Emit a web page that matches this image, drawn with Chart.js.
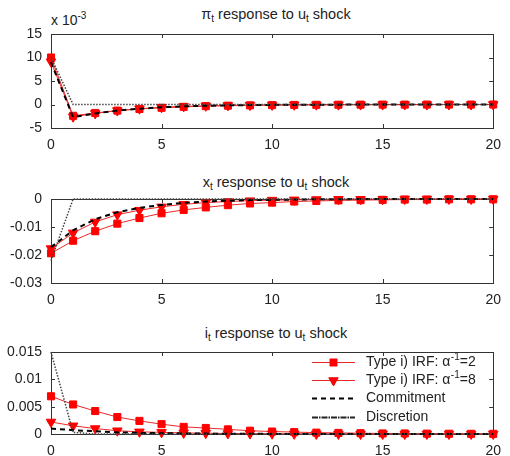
<!DOCTYPE html>
<html>
<head>
<meta charset="utf-8">
<script src="https://cdn.jsdelivr.net/npm/chart.js@4.4.0/dist/chart.umd.min.js"></script>
<style>
    body {
        margin: 0;
        width: 510px;
        height: 456px;
        position: relative;
        overflow: hidden;
        background: #fff;
        font-family: 'Liberation Sans', Arial, sans-serif;
        color: #222;
    }
    canvas { position: absolute; left: 0; top: 0; }
    .title {
        position: absolute;
        left: 51px;
        width: 450px;
        text-align: center;
        font-size: 14.5px;
        line-height: 16px;
    }
    .title sub { font-size: 10px; vertical-align: -3px; line-height: 0; }
    .scale-note { position: absolute; left: 51px; top: 12px; font-size: 14px; line-height: 16px; }
    .scale-note sup { font-size: 10px; line-height: 0; }
</style>
</head>
<body>
<div class="title" style="top:6px">&pi;<sub>t</sub> response to u<sub>t</sub> shock</div>
<div class="scale-note">x 10<sup>-3</sup></div>
<div class="title" style="top:174px">x<sub>t</sub> response to u<sub>t</sub> shock</div>
<div class="title" style="top:325px">i<sub>t</sub> response to u<sub>t</sub> shock</div>

<!-- three full-size transparent canvases stacked, each panel placed by padding -->
<canvas id="piChart" width="510" height="456"></canvas>
<canvas id="xChart" width="510" height="456"></canvas>
<canvas id="iChart" width="510" height="456"></canvas>

<script>
// ============================================
// Data
// ============================================
const periods = [0, 1, 2, 3, 4, 5, 6, 7, 8, 9, 10, 11, 12, 13, 14, 15, 16, 17, 18, 19, 20];
const xTickValues = [0, 5, 10, 15, 20];
const xTickLabels = ['0', '5', '10', '15', '20'];

// legend names: [text, superscript, text after]
const seriesNames = [
    ['Type i) IRF: \u03b1', '-1', '=2'],
    ['Type i) IRF: \u03b1', '-1', '=8'],
    ['Commitment', '', ''],
    ['Discretion', '', '']
];

// inflation, in units of 10^-3
const piType2 = [10.0, -2.4, -1.8, -1.3, -0.95, -0.7, -0.5, -0.35, -0.25, -0.18, -0.13, -0.09, -0.07, -0.05, -0.03, -0.02, -0.02, -0.01, -0.01, -0.01, 0];
const piType8 = [9.1, -2.6, -1.9, -1.3, -0.9, -0.6, -0.4, -0.28, -0.19, -0.13, -0.09, -0.06, -0.04, -0.03, -0.02, -0.01, -0.01, -0.01, 0, 0, 0];
const piCommit = [9.0, -2.7, -1.9, -1.3, -0.9, -0.6, -0.4, -0.27, -0.18, -0.12, -0.08, -0.05, -0.04, -0.03, -0.02, -0.01, -0.01, 0, 0, 0, 0];
const piDiscr = [10.0, 0, 0, 0, 0, 0, 0, 0, 0, 0, 0, 0, 0, 0, 0, 0, 0, 0, 0, 0, 0];
const piTicks = [-5, 0, 5, 10, 15];
const piTickLabels = ['-5', '0', '5', '10', '15'];

// output gap
const xType2 = [-0.0194, -0.0149, -0.0115, -0.0088, -0.0068, -0.0051, -0.0039, -0.0030, -0.0022, -0.0016, -0.0013, -0.0009, -0.0007, -0.0005, -0.0004, -0.0003, -0.0002, -0.0002, -0.0001, -0.0001, -0.0001];
const xType8 = [-0.0177, -0.0121, -0.0082, -0.0056, -0.0040, -0.0028, -0.0019, -0.0013, -0.0009, -0.0006, -0.0004, -0.0003, -0.0002, -0.0001, -0.0001, -0.0001, 0, 0, 0, 0, 0];
const xCommit = [-0.0172, -0.0112, -0.0072, -0.0047, -0.0032, -0.0021, -0.0014, -0.0009, -0.0006, -0.0004, -0.0003, -0.0002, -0.0001, -0.0001, 0, 0, 0, 0, 0, 0, 0];
const xDiscr = [-0.022, 0, 0, 0, 0, 0, 0, 0, 0, 0, 0, 0, 0, 0, 0, 0, 0, 0, 0, 0, 0];
const xTicks = [-0.03, -0.02, -0.01, 0];
const xTicksLabels = ['-0.03', '-0.02', '-0.01', '0'];

// interest rate
const iType2 = [0.0069, 0.0054, 0.0042, 0.0031, 0.0024, 0.0018, 0.0013, 0.0011, 0.00085, 0.0006, 0.00045, 0.00035, 0.00025, 0.0002, 0.00015, 0.0001, 0.0001, 0.00007, 0.00005, 0.00004, 0.00003];
const iType8 = [0.0022, 0.0015, 0.0010, 0.0006, 0.0004, 0.0003, 0.0002, 0.00015, 0.0001, 0.00007, 0.00005, 0.00003, 0.00002, 0.00001, 0, 0, 0, 0, 0, 0, 0];
const iCommit = [0.0010, 0.0007, 0.0005, 0.0003, 0.0002, 0.00015, 0.0001, 0.00007, 0.00005, 0.00003, 0.00002, 0.00001, 0, 0, 0, 0, 0, 0, 0, 0, 0];
const iDiscr = [0.015, 0.0003, 0, 0, 0, 0, 0, 0, 0, 0, 0, 0, 0, 0, 0, 0, 0, 0, 0, 0, 0];
const iTicks = [0, 0.005, 0.01, 0.015];
const iTickLabels = ['0', '0.005', '0.01', '0.015'];

// ============================================
// Styles
// ============================================
const FONT = { family: "'Liberation Sans', Arial, sans-serif", size: 14 };
const FRAME = '#333';
const X_AXIS_HEIGHT = 22;

const seriesStyles = [
    { borderColor: 'rgba(235, 40, 40, 1)', borderWidth: 1, pointStyle: 'rect', pointRadius: 5, pointBackgroundColor: '#f00', pointBorderColor: '#f00', borderDash: [], order: 4 },
    { borderColor: 'rgba(235, 40, 40, 1)', borderWidth: 1, pointStyle: 'triangle', pointRotation: 180, pointRadius: 5.5, pointBackgroundColor: '#f00', pointBorderColor: '#f00', borderDash: [], order: 3 },
    { borderColor: '#000', borderWidth: 2, pointRadius: 0, borderDash: [5, 4], order: 2 },
    { borderColor: '#444', borderWidth: 1.5, pointRadius: 0, borderDash: [1.5, 1.5], order: 1 }
];
// the key sample for Discretion is drawn dash-dot like the original
const legendDash = [[], [], [5, 4], [6, 1, 1.5, 1]];

function toPoints(values) {
    return periods.map((p, i) => ({ x: p, y: values[i] }));
}

// ============================================
// Frame with inward ticks (gnuplot look)
// ============================================
const framePlugin = {
    id: 'frame',
    beforeDatasetsDraw(chart) {
        const { ctx, chartArea: a, scales } = chart;
        ctx.save();
        ctx.strokeStyle = FRAME;
        ctx.lineWidth = 1;
        ctx.strokeRect(Math.round(a.left) + 0.5, Math.round(a.top) + 0.5, Math.round(a.right - a.left), Math.round(a.bottom - a.top));
        ctx.beginPath();
        scales.x.ticks.forEach(t => {
            const px = Math.round(scales.x.getPixelForValue(t.value)) + 0.5;
            ctx.moveTo(px, a.bottom); ctx.lineTo(px, a.bottom - 4);
            ctx.moveTo(px, a.top); ctx.lineTo(px, a.top + 4);
        });
        scales.y.ticks.forEach(t => {
            const py = Math.round(scales.y.getPixelForValue(t.value)) + 0.5;
            ctx.moveTo(a.left, py); ctx.lineTo(a.left + 4, py);
            ctx.moveTo(a.right, py); ctx.lineTo(a.right - 4, py);
        });
        ctx.stroke();
        ctx.restore();
    }
};

// ============================================
// Legend drawn inside the bottom panel
// ============================================
const legendPlugin = {
    id: 'insideLegend',
    afterDraw(chart) {
        const ctx = chart.ctx;
        const x0 = 312, x1 = 355, textX = 366;
        const rows = [362, 380, 398, 417];
        ctx.save();
        ctx.textBaseline = 'middle';
        seriesNames.forEach((parts, i) => {
            const s = seriesStyles[i];
            const y = rows[i] + 0.5;
            ctx.strokeStyle = i === 3 ? '#222' : s.borderColor;
            ctx.lineWidth = i === 3 ? 2 : s.borderWidth;
            ctx.setLineDash(legendDash[i]);
            ctx.beginPath();
            ctx.moveTo(x0, y); ctx.lineTo(x1, y);
            ctx.stroke();
            ctx.setLineDash([]);
            if (s.pointRadius) {
                Chart.helpers.drawPoint(ctx, {
                    pointStyle: s.pointStyle, rotation: s.pointRotation || 0,
                    radius: s.pointRadius, borderWidth: 1
                }, (x0 + x1) / 2, y);
                ctx.fillStyle = s.pointBackgroundColor;
                ctx.fill();
            }
            // text with optional superscript
            ctx.fillStyle = '#222';
            let tx = textX;
            ctx.font = `${FONT.size}px ${FONT.family}`;
            ctx.fillText(parts[0], tx, y);
            tx += ctx.measureText(parts[0]).width;
            if (parts[1]) {
                ctx.font = `10px ${FONT.family}`;
                ctx.fillText(parts[1], tx + 0.5, y - 5);
                tx += ctx.measureText(parts[1]).width + 0.5;
                ctx.font = `${FONT.size}px ${FONT.family}`;
                ctx.fillText(parts[2], tx, y);
            }
        });
        ctx.restore();
    }
};

// ============================================
// Build one panel (plot box from top to bottom, in page pixels)
// ============================================
function buildPanel(id, seriesData, yMin, yMax, yTicks, yTickLabels, boxTop, boxBottom, plugins) {
    const ctx = document.getElementById(id);
    return new Chart(ctx, {
        type: 'line',
        data: {
            datasets: seriesData.map((vals, i) => Object.assign({
                label: seriesNames[i].join(''),
                data: toPoints(vals),
                fill: false,
                tension: 0,
                clip: false,
                pointBorderWidth: 1
            }, seriesStyles[i]))
        },
        options: {
            responsive: false,
            animation: false,
            layout: { padding: { left: 0, right: 9, top: boxTop, bottom: 456 - boxBottom - X_AXIS_HEIGHT } },
            plugins: { legend: { display: false }, tooltip: { enabled: false } },
            scales: {
                x: {
                    type: 'linear',
                    min: 0,
                    max: 20,
                    grid: { display: false, drawTicks: false },
                    border: { display: false },
                    afterBuildTicks: s => { s.ticks = xTickValues.map(v => ({ value: v })); },
                    afterFit: s => { s.height = X_AXIS_HEIGHT; },
                    ticks: {
                        font: FONT, color: '#222', padding: 9, maxRotation: 0,
                        callback: (v, i) => xTickLabels[i]
                    }
                },
                y: {
                    min: yMin,
                    max: yMax,
                    grid: { display: false, drawTicks: false },
                    border: { display: false },
                    afterBuildTicks: s => { s.ticks = yTicks.map(v => ({ value: v })); },
                    afterFit: s => { s.width = 51; },
                    ticks: {
                        font: FONT, color: '#222', padding: 9,
                        callback: (v, i) => yTickLabels[i]
                    }
                }
            }
        },
        plugins: plugins
    });
}

// ============================================
// Initialize
// ============================================
buildPanel('piChart', [piType2, piType8, piCommit, piDiscr], -5, 15, piTicks, piTickLabels, 34, 128, [framePlugin]);
buildPanel('xChart', [xType2, xType8, xCommit, xDiscr], -0.03, 0, xTicks, xTicksLabels, 199, 283, [framePlugin]);
buildPanel('iChart', [iType2, iType8, iCommit, iDiscr], 0, 0.015, iTicks, iTickLabels, 352, 434, [framePlugin, legendPlugin]);
</script>
</body>
</html>
